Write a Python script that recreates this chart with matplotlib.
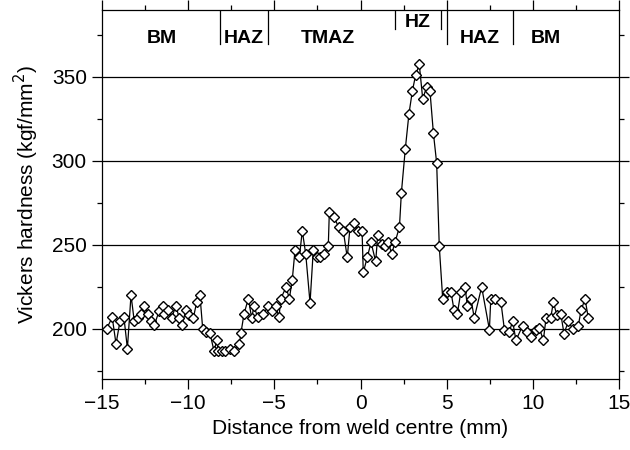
import matplotlib
matplotlib.use("Agg")
import matplotlib.pyplot as plt
from matplotlib.ticker import MultipleLocator

plt.rcParams["font.family"] = ["Liberation Sans", "DejaVu Sans"]

# hardness traverse
distance = [-14.73, -14.41, -14.19, -13.96, -13.73, -13.53, -13.32, -13.13, -12.93, -12.76,
            -12.55, -12.32, -12.18, -11.97, -11.68, -11.48, -11.39, -11.15, -10.96, -10.71,
            -10.53, -10.38, -10.13, -9.94, -9.70, -9.51, -9.32, -9.16, -8.97, -8.74,
            -8.50, -8.35, -8.25, -8.06, -7.86, -7.57, -7.32, -7.03, -6.94, -6.76,
            -6.51, -6.32, -6.18, -5.97, -5.64, -5.35, -5.15, -4.92, -4.73, -4.63,
            -4.32, -4.13, -3.96, -3.80, -3.55, -3.38, -3.18, -2.93, -2.74, -2.54,
            -2.35, -2.12, -1.87, -1.81, -1.54, -1.27, -1.00, -0.77, -0.61, -0.38,
            -0.15, 0.09, 0.16, 0.39, 0.61, 0.88, 1.00, 1.23, 1.42, 1.61,
            1.81, 2.00, 2.26, 2.37, 2.60, 2.81, 3.01, 3.20, 3.41, 3.61,
            3.84, 4.03, 4.23, 4.42, 4.57, 4.77, 5.04, 5.25, 5.43, 5.62,
            5.82, 6.07, 6.20, 6.41, 6.60, 7.03, 7.48, 7.56, 7.81, 8.15,
            8.35, 8.62, 8.83, 9.02, 9.41, 9.68, 9.90, 10.19, 10.38, 10.61,
            10.77, 11.04, 11.19, 11.39, 11.62, 11.81, 12.06, 12.32, 12.64, 12.80,
            13.03, 13.22]
hardness = [200, 206.7, 190.9, 204.3, 206.7, 188.1, 220, 204.3, 206.4, 208.9,
            213.7, 208.8, 204.3, 202, 210.7, 213.7, 208.8, 210.9, 206.4, 213.7,
            206.4, 202, 210.9, 207.9, 206.4, 215.7, 220, 200, 197.8, 197.4,
            186.5, 193, 186.5, 186.5, 186.5, 188.1, 186.5, 190.9, 197.4, 208.8,
            217.9, 206.4, 213.3, 206.7, 208.8, 213.3, 210.3, 213.3, 206.7, 217.9,
            224.6, 217.9, 229.2, 247, 242.4, 258.3, 244.5, 215.3, 247, 242.4,
            242.4, 244.5, 249.4, 269.5, 266.8, 260.3, 258.3, 242.4, 260.3, 262.9,
            258.3, 258.3, 233.5, 242.4, 251.4, 240, 256, 250.4, 249, 251.4,
            244.6, 251.4, 260.6, 280.8, 307.2, 328, 341.7, 351.2, 357.6, 336.9,
            344.2, 341.7, 316.5, 298.6, 249.2, 217.7, 221.8, 221.8, 210.9, 208.9,
            221.8, 224.8, 213.3, 217.7, 206.4, 224.8, 199.4, 217.7, 217.7, 215.7,
            199.4, 197.8, 204.3, 193, 201.8, 197.8, 195.1, 199, 200.4, 193,
            206.4, 206.4, 215.7, 208.3, 208.9, 197, 204.3, 199.8, 201.8, 210.9,
            217.7, 206.4]

zone_names = ["BM", "HAZ", "TMAZ", "HZ", "HAZ", "BM"]
zone_x = [-11.55, -6.8, -1.9, 3.35, 6.95, 10.75]
zone_y = [373, 373, 373, 382.5, 373, 373]
long_bounds = [-8.15, -5.37, 5.02, 8.85]
short_bounds = [2.0, 4.67]

fig = plt.figure(figsize=(6.3, 4.5), dpi=100)
ax = fig.add_axes([0.162, 0.158, 0.8205, 0.82])

ax.plot(distance, hardness, color="black", lw=0.9, marker="D", markersize=5.3,
        markerfacecolor="white", markeredgecolor="black", markeredgewidth=1.0, zorder=3)

ax.set_xlim(-15, 15)
ax.set_ylim(170, 390)
ax.xaxis.set_major_locator(MultipleLocator(5))
ax.xaxis.set_minor_locator(MultipleLocator(2.5))
ax.set_yticks([200, 250, 300, 350])
ax.yaxis.set_minor_locator(MultipleLocator(25))
ax.yaxis.grid(True, which="major", color="black", lw=0.9)
ax.set_axisbelow(True)

ax.tick_params(which="both", direction="out", top=True, right=True, labelsize=15, width=0.9)
ax.tick_params(which="major", length=7, pad=4)
ax.tick_params(which="minor", length=3.5)
for s in ax.spines.values():
    s.set_linewidth(0.9)

# zone boundaries hanging from the top edge
for b in long_bounds:
    ax.plot([b, b], [369.5, 390], color="black", lw=0.9)
for b in short_bounds:
    ax.plot([b, b], [378.5, 390], color="black", lw=0.9)
for name, zx, zy in zip(zone_names, zone_x, zone_y):
    ax.text(zx, zy, name, ha="center", va="center", fontsize=14, fontweight="bold")

ax.set_xlabel("Distance from weld centre (mm)", fontsize=15)
ax.set_ylabel("Vickers hardness (kgf/mm$^2$)", fontsize=15, labelpad=8)

fig.savefig("out.png", dpi=100)
